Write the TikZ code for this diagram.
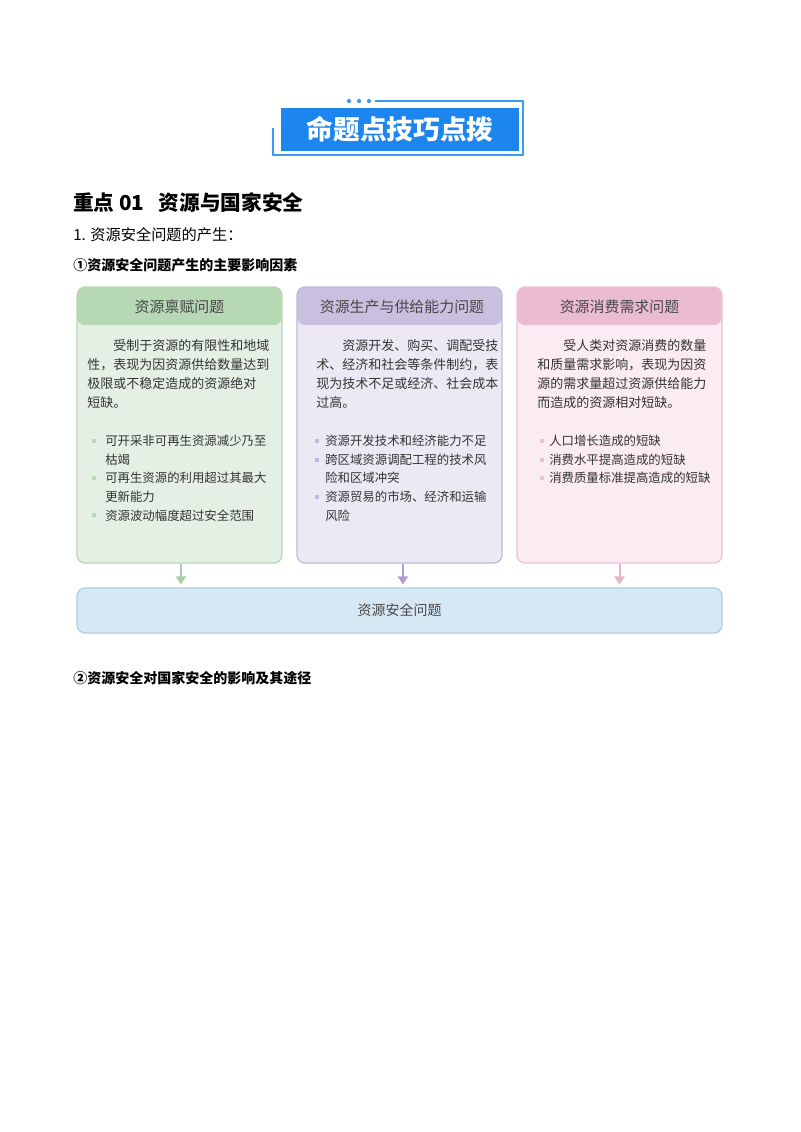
\documentclass[tikz,border=0pt]{standalone}
\usepackage{fontspec}
\setmainfont{Noto Sans CJK SC}
\usetikzlibrary{arrows.meta,positioning}
\definecolor{BannerBlue}{HTML}{1C86EE}
\definecolor{FrameBlue}{HTML}{3A9BF0}
\definecolor{GreenHead}{HTML}{B6D8B4}
\definecolor{GreenBody}{HTML}{E3F0E3}
\definecolor{GreenLine}{HTML}{B9D7B9}
\definecolor{GreenArrow}{HTML}{A8CEA8}
\definecolor{PurpleHead}{HTML}{C9BFDF}
\definecolor{PurpleBody}{HTML}{EDE9F4}
\definecolor{PurpleLine}{HTML}{C2B7DA}
\definecolor{PurpleArrow}{HTML}{B0A0D0}
\definecolor{PinkHead}{HTML}{EBBBD1}
\definecolor{PinkBody}{HTML}{FBEBF2}
\definecolor{PinkLine}{HTML}{EBC3D5}
\definecolor{PinkArrow}{HTML}{E8B4CB}
\definecolor{SafeBody}{HTML}{D7E8F5}
\definecolor{SafeLine}{HTML}{A9CDE7}
\definecolor{BodyText}{HTML}{333333}

\begin{document}
\begin{tikzpicture}[x=0.75pt,y=-0.75pt,
  heading/.style={anchor=west,inner sep=0pt,font=\fontsize{10.5}{12}\selectfont\bfseries},
  card/.style={rounded corners=6pt,line width=0.9pt,minimum width=153.75pt,minimum height=207pt,inner sep=0pt},
  headband/.style={path picture={\fill[#1] (path picture bounding box.north west) rectangle ([yshift=-28.5pt]path picture bounding box.north east);}},
  cardtitle/.style={inner sep=0pt,text=black!72,font=\fontsize{11.2}{13}\selectfont},
  para/.style={anchor=north west,inner sep=0pt,align=left,text=BodyText,font=\fontsize{9.75}{14.25}\selectfont},
  itemtext/.style={anchor=north west,inner sep=0pt,align=left,text=BodyText,font=\fontsize{9.3}{13.95}\selectfont},
  dot/.style={fill=#1,minimum size=3pt,inner sep=0pt},
  flow/.style={-{Triangle[length=6pt,width=7.5pt]},line width=1.5pt,shorten >=2.2pt}]
\useasboundingbox[fill=white] (0,0) rectangle (800,1132);

% banner
\node[fill=BannerBlue,minimum width=179pt,minimum height=32.25pt,inner sep=0pt,
  text=white,font=\fontsize{20}{22}\selectfont\bfseries] (banner) at (400,129.2) {命题点技巧点拨};
\draw[FrameBlue,line width=1.1pt] (375,101) -- (523,101) -- (523,155) -- (273,155) -- (273,128);
\foreach \x in {349,359,369}
  \fill[FrameBlue] (\x,101) circle (1.6pt);

% headings
\node[heading,font=\fontsize{15.5}{18}\selectfont\bfseries] (key) at (73,202.5) {重点 01\hspace{0.7em}资源与国家安全};
\node[heading,font=\fontsize{11.4}{13}\selectfont] (sub) at (73,234.5) {1. 资源安全问题的产生：};
\node[heading] (factor) at (73,265) {①资源安全问题产生的主要影响因素};

% three cards
\node[card,draw=GreenLine,fill=GreenBody,headband=GreenHead] (endow) at (179.5,425) {};
\node[card,draw=PurpleLine,fill=PurpleBody,headband=PurpleHead] (supply) at (399.5,425) {};
\node[card,draw=PinkLine,fill=PinkBody,headband=PinkHead] (demand) at (619.5,425) {};

\node[cardtitle] (endowT) at (179.5,307) {资源禀赋问题};
\node[cardtitle] (supplyT) at (402,307) {资源生产与供给能力问题};
\node[cardtitle] (demandT) at (619.5,307) {资源消费需求问题};

\node[para] (endowP) at (87,338.8) {\hspace{2em}受制于资源的有限性和地域\\性，表现为因资源供给数量达到\\极限或不稳定造成的资源绝对\\短缺。};
\node[para] (supplyP) at (316,338.8) {\hspace{2em}资源开发、购买、调配受技\\术、经济和社会等条件制约，表\\现为技术不足或经济、社会成本\\过高。};
\node[para] (demandP) at (537,338.8) {\hspace{2em}受人类对资源消费的数量\\和质量需求影响，表现为因资\\源的需求量超过资源供给能力\\而造成的资源相对短缺。};

\node[itemtext] (endowL) at (105,435) {可开采非可再生资源减少乃至\\枯竭\\可再生资源的利用超过其最大\\更新能力\\资源波动幅度超过安全范围};
\foreach \k in {0,2,4}
  \node[dot=GreenLine] at (94,441+18.6*\k) {};
\node[itemtext] (supplyL) at (325,435) {资源开发技术和经济能力不足\\跨区域资源调配工程的技术风\\险和区域冲突\\资源贸易的市场、经济和运输\\风险};
\foreach \k in {0,1,3}
  \node[dot=PurpleLine] at (317,441+18.6*\k) {};
\node[itemtext] (demandL) at (549,435) {人口增长造成的短缺\\消费水平提高造成的短缺\\消费质量标准提高造成的短缺};
\foreach \k in {0,1,2}
  \node[dot=PinkLine] at (542,441+18.6*\k) {};

% result
\node[rounded corners=6pt,draw=SafeLine,fill=SafeBody,line width=0.9pt,minimum width=483.75pt,
  minimum height=33.75pt,inner sep=0pt,text=black!72,font=\fontsize{10.5}{12}\selectfont] (safe) at (399.5,610.5) {资源安全问题};
\draw[flow,draw=GreenArrow] ([xshift=1.1pt]endow.south) -- ([xshift=1.1pt]endow.south |- safe.north);
\draw[flow,draw=PurpleArrow] ([xshift=2.6pt]supply.south) -- ([xshift=2.6pt]supply.south |- safe.north);
\draw[flow,draw=PinkArrow] (demand.south) -- (demand.south |- safe.north);

\node[heading] (impact) at (73,678) {②资源安全对国家安全的影响及其途径};
\end{tikzpicture}
\end{document}
